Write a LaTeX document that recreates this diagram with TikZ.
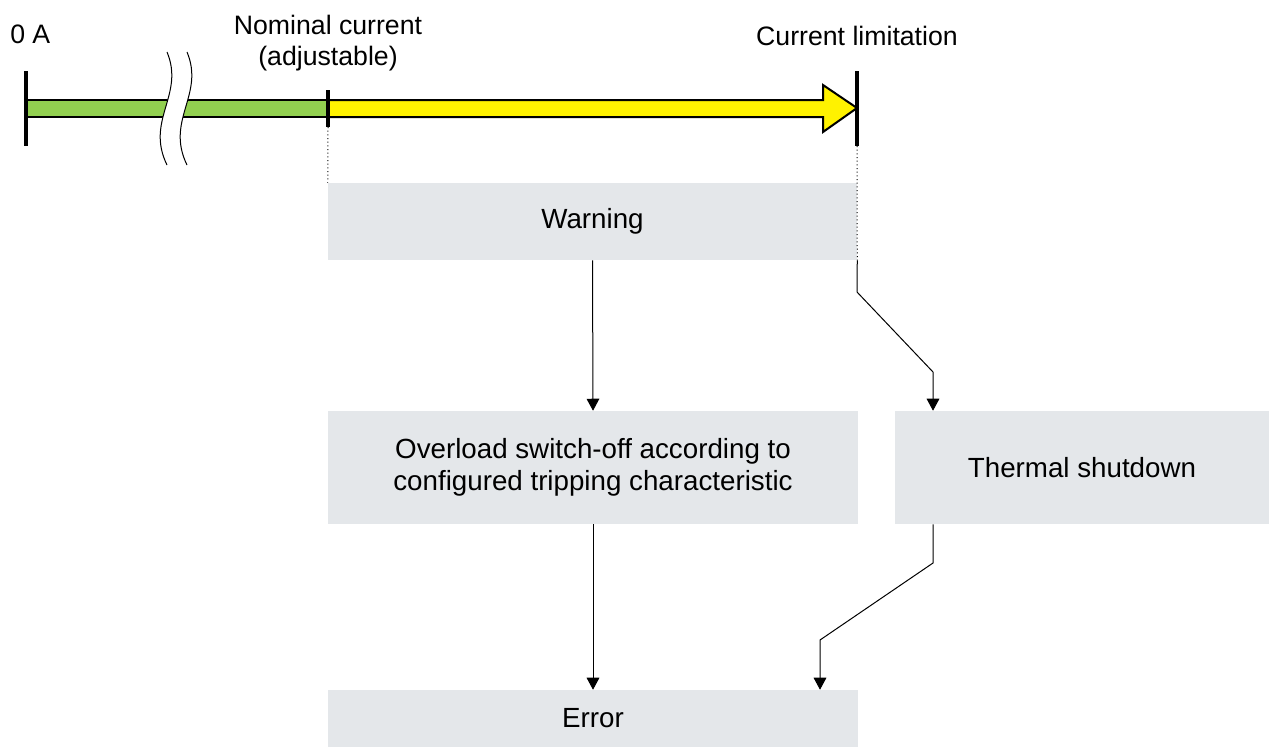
\documentclass[tikz,border=0pt]{standalone}
\usepackage{fontspec}
\setmainfont{Liberation Sans}
\usetikzlibrary{arrows.meta,positioning,calc}
\definecolor{barGreen}{RGB}{146,208,80}
\definecolor{boxGray}{RGB}{228,231,234}

\begin{document}
\begin{tikzpicture}[x=0.75pt,y=-0.75pt,
  every node/.style={font=\fontsize{20}{23}\selectfont},
  blk/.style={fill=boxGray,inner sep=0pt,minimum height=84.75pt,align=center,font=\fontsize{20.8}{24}\selectfont},
  tick/.style={line width=3pt},
  con/.style={-{Triangle[length=9pt,width=9.5pt]},line width=0.75pt}]
\useasboundingbox (0,0) rectangle (1269,747);
\filldraw[fill=barGreen,line width=1.5pt] (26,100) rectangle (328,117);
\filldraw[fill=yellow,line width=1.5pt,line join=miter] (328,100) -- (823,100) -- (823,85) -- (857,108) -- (823,132) -- (823,117) -- (328,117) -- cycle;
\fill[white] (167,52) .. controls (185,95) and (145,120) .. (167,165) -- (187,165) .. controls (165,120) and (205,95) .. (187,52) -- cycle;
\draw[line width=0.75pt] (167,52) .. controls (185,95) and (145,120) .. (167,165);
\draw[line width=0.75pt] (187,52) .. controls (205,95) and (165,120) .. (187,165);
\coordinate (zt) at (26,71);
\coordinate (zb) at (26,146);
\coordinate (nt) at (328,90);
\coordinate (nb) at (328,127);
\coordinate (lt) at (857,71);
\coordinate (lb) at (857,146);
\draw[tick] (zt) -- (zb);
\draw[tick] (nt) -- (nb);
\draw[tick] (lt) -- (lb);
\node[anchor=base west,inner sep=0pt] (zero) at (10,43) {0 A};
\node[align=center] (nom) at (328,43) {Nominal current\\(adjustable)};
\node[anchor=base] (lim) at (857,45) {Current limitation};
\node[blk,minimum width=396.75pt,minimum height=57.75pt] (warn) at (592.5,221.5) {Warning};
\node[blk,minimum width=397.5pt] (over) at (593,467.5) {Overload switch-off according to\\configured tripping characteristic};
\node[blk,minimum width=280.5pt] (therm) at (1082,467.5) {Thermal shutdown};
\node[blk,minimum width=397.5pt,minimum height=42.75pt] (err) at (593,718.5) {Error};
\draw[dotted,line width=0.75pt] (nb) -- (warn.north west);
\draw[dotted,line width=0.75pt] (lb) -- (warn.south east);
\coordinate (k1) at (857,292);
\coordinate (k2) at (933,372);
\coordinate (k3) at (933,563);
\coordinate (k4) at (820,640);
\draw[con] (warn.south) -- (over.north);
\draw[con] (over.south) -- (err.north);
\draw[con] (warn.south east) -- (k1) -- (k2) -- (k2 |- therm.north);
\draw[con] (k3 |- therm.south) -- (k3) -- (k4) -- (k4 |- err.north);
\end{tikzpicture}
\end{document}
